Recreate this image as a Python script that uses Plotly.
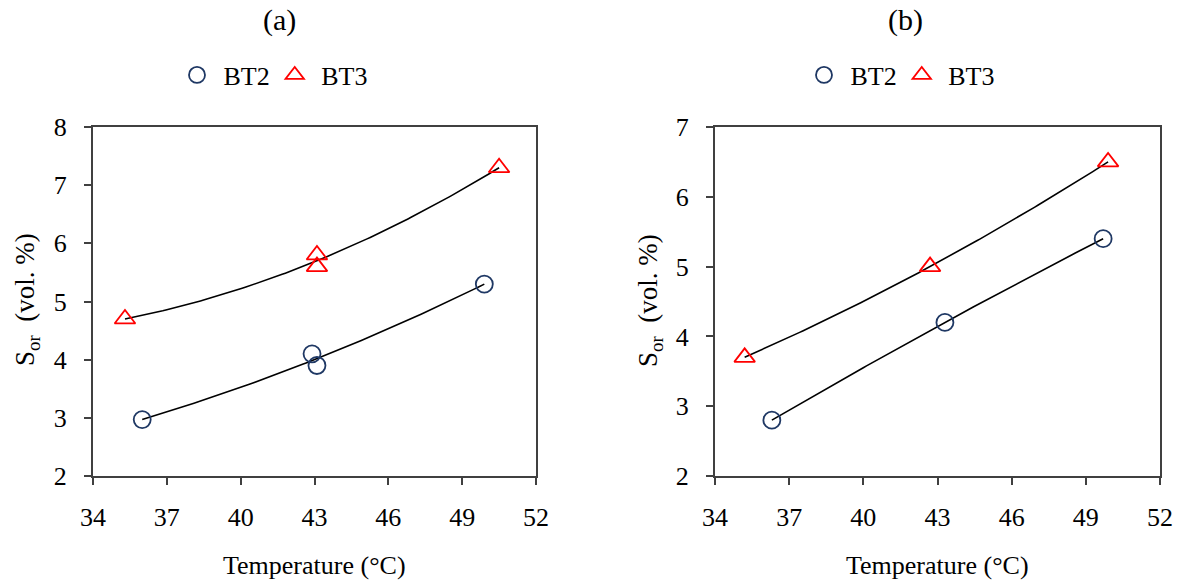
import numpy as np
import plotly.graph_objects as go

# Panel (a): residual oil saturation vs temperature
a_bt2_temp = [36.0, 42.9, 43.1, 49.9]
a_bt2_sor = [2.97, 4.1, 3.9, 5.3]
a_bt3_temp = [35.3, 43.1, 43.1, 50.5]
a_bt3_sor = [4.7, 5.8, 5.6, 7.3]

# Panel (b)
b_bt2_temp = [36.3, 43.3, 49.7]
b_bt2_sor = [2.8, 4.2, 5.4]
b_bt3_temp = [35.2, 42.7, 49.9]
b_bt3_sor = [3.7, 5.0, 6.5]

x_ticks = [34, 37, 40, 43, 46, 49, 52]
a_y_ticks = [2, 3, 4, 5, 6, 7, 8]
b_y_ticks = [2, 3, 4, 5, 6, 7]

W, H = 1182, 585
FONT = "Liberation Serif, Times New Roman, serif"
BT2_COLOR = "#1f3864"
BT3_COLOR = "#ff0000"
AXIS_COLOR = "#404040"
NBSP = "\u00a0"


def trend(xs, ys):
    """Second-order polynomial trendline across the data range."""
    coef = np.polyfit(xs, ys, 2)
    xf = np.linspace(min(xs), max(xs), 120)
    return xf, np.polyval(coef, xf)


fig = go.Figure()

panels = [
    ("x", "y", "legend", a_bt2_temp, a_bt2_sor, a_bt3_temp, a_bt3_sor),
    ("x2", "y2", "legend2", b_bt2_temp, b_bt2_sor, b_bt3_temp, b_bt3_sor),
]

for xa, ya, leg, t2, s2, t3, s3 in panels:
    for xs, ys in ((t2, s2), (t3, s3)):
        xf, yf = trend(xs, ys)
        fig.add_trace(go.Scatter(
            x=xf, y=yf, mode="lines", xaxis=xa, yaxis=ya,
            line=dict(color="black", width=1.6), showlegend=False,
            hoverinfo="skip"))
    fig.add_trace(go.Scatter(
        x=t2, y=s2, mode="markers", name=NBSP + "BT2", xaxis=xa, yaxis=ya,
        legend=leg,
        marker=dict(symbol="circle-open", size=17, color=BT2_COLOR,
                    line=dict(width=1.8, color=BT2_COLOR))))
    fig.add_trace(go.Scatter(
        x=t3, y=s3, mode="markers", name=NBSP + "BT3", xaxis=xa, yaxis=ya,
        legend=leg,
        marker=dict(symbol="triangle-up-open", size=18, color=BT3_COLOR,
                    line=dict(width=1.8, color=BT3_COLOR))))

x_dom_a = [93 / W, 536 / W]
x_dom_b = [715 / W, 1160 / W]
y_dom = [1 - 476 / H, 1 - 127 / H]

axis_common = dict(
    showgrid=False, zeroline=False, showline=True, linecolor=AXIS_COLOR,
    linewidth=2, mirror=True, ticks="outside", ticklen=7, tickwidth=2,
    tickcolor=AXIS_COLOR, automargin=False,
    tickfont=dict(family=FONT, size=26, color="black"),
)

legend_common = dict(
    orientation="h", y=1 - 75 / H, xanchor="left", yanchor="middle",
    font=dict(family=FONT, size=26, color="black"),
    bgcolor="rgba(0,0,0,0)", itemwidth=30,
)

fig.update_layout(
    width=W, height=H,
    margin=dict(l=0, r=0, t=0, b=0, pad=0, autoexpand=False),
    paper_bgcolor="white", plot_bgcolor="white",
    font=dict(family=FONT, color="black"),
    xaxis=dict(domain=x_dom_a, range=[34, 52], tickvals=x_ticks,
               anchor="y", ticklabelstandoff=10, **axis_common),
    yaxis=dict(domain=y_dom, range=[2, 8], tickvals=a_y_ticks,
               anchor="x", ticklabelstandoff=12, **axis_common),
    xaxis2=dict(domain=x_dom_b, range=[34, 52], tickvals=x_ticks,
                anchor="y2", ticklabelstandoff=10, **axis_common),
    yaxis2=dict(domain=y_dom, range=[2, 7], tickvals=b_y_ticks,
                anchor="x2", ticklabelstandoff=12, **axis_common),
    legend=dict(x=177 / W, **legend_common),
    legend2=dict(x=804 / W, **legend_common),
)

labels = [
    dict(text="(a)", x=279 / W, y=1 - 20 / H, size=30, angle=0),
    dict(text="(b)", x=905 / W, y=1 - 20 / H, size=30, angle=0),
    dict(text="Temperature (°C)", x=314 / W, y=1 - 565 / H, size=26, angle=0),
    dict(text="Temperature (°C)", x=937 / W, y=1 - 565 / H, size=26, angle=0),
    dict(text="S<sub>or</sub>  (vol. %)", x=27 / W, y=1 - 300 / H, size=27, angle=-90),
    dict(text="S<sub>or</sub>  (vol. %)", x=650 / W, y=1 - 300 / H, size=27, angle=-90),
]
for lb in labels:
    fig.add_annotation(
        text=lb["text"], x=lb["x"], y=lb["y"], xref="paper", yref="paper",
        xanchor="center", yanchor="middle", showarrow=False,
        textangle=lb["angle"], font=dict(family=FONT, size=lb["size"], color="black"))

fig.write_html("out.html")
